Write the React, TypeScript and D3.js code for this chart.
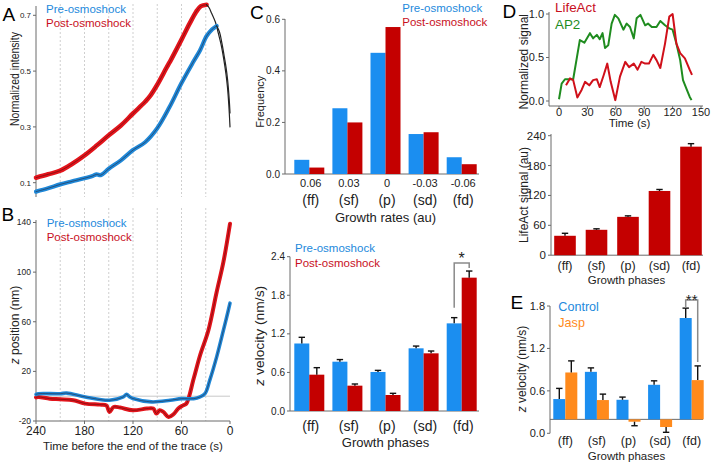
import React from "react";
import * as d3 from "d3";

// ---------- data ----------
const PHASES = ["(ff)", "(sf)", "(p)", "(sd)", "(fd)"];
const RATES = ["0.06", "0.03", "0", "-0.03", "-0.06"];

// Panel A: normalized intensity vs time before end (s)
const A_PRE_T = [240, 225, 210, 195, 180, 170, 165, 160, 150, 135, 120, 105, 90, 75, 60, 45, 37, 29, 22, 16.5];
const A_PRE_V = [0.068, 0.08, 0.094, 0.105, 0.116, 0.124, 0.13, 0.127, 0.15, 0.18, 0.217, 0.245, 0.295, 0.37, 0.457, 0.535, 0.575, 0.625, 0.65, 0.662];
const A_PRE_TAIL_T = [16.5, 13, 10, 7, 5, 3, 1, 0];
const A_PRE_TAIL_V = [0.662, 0.64, 0.6, 0.55, 0.515, 0.47, 0.4, 0.35];
const A_POST_T = [240, 225, 210, 195, 180, 165, 150, 135, 120, 105, 99, 90, 78, 75, 60, 50, 42, 36, 29];
const A_POST_V = [0.118, 0.13, 0.143, 0.168, 0.198, 0.233, 0.27, 0.305, 0.348, 0.39, 0.41, 0.451, 0.515, 0.53, 0.613, 0.67, 0.712, 0.733, 0.738];
const A_POST_TAIL_T = [29, 26, 22.7, 18, 14.4, 11, 8.2, 5, 3.2, 1.5, 0];
const A_POST_TAIL_V = [0.738, 0.728, 0.707, 0.675, 0.635, 0.595, 0.551, 0.49, 0.444, 0.38, 0.3];

// Panel B: z position (nm)
const B_PRE_T = [240, 237, 210, 202, 179, 149, 132, 128, 124, 120, 97, 74, 60, 45, 37, 31, 25, 16.5, 8.2, 4, 0];
const B_PRE_Z = [1.5, 2, 2, 2.5, -0.6, -3.3, -0.6, 1.5, -0.6, -1.9, -4.6, -3.3, -2, -2, -0.6, 2, 12.9, 31.7, 53, 64, 75];
const B_POST_T = [240, 237, 223, 210, 194, 179, 161, 153, 149, 144, 136, 120, 103, 95, 91, 87, 82.5, 76, 70, 64, 58, 54, 45, 37, 26.8, 16.5, 8.2, 0];
const B_POST_Z = [-1, -0.6, -2, -2.5, -3.3, -6, -6.8, -7.4, -12.7, -8.7, -9.2, -11.4, -10, -10, -14, -11.4, -12.7, -16.8, -14.6, -10, -7.4, -6, 14, 33, 53, 84, 108, 139];

// Panel C (top): frequency histogram
const C_FREQ_PRE = [0.055, 0.255, 0.47, 0.155, 0.065];
const C_FREQ_POST = [0.025, 0.2, 0.57, 0.162, 0.038];

// Panel C (bottom): z velocity (nm/s)
const C_VEL_PRE = [1.05, 0.767, 0.607, 0.975, 1.363];
const C_VEL_PRE_ERR = [1.146, 0.8, 0.632, 1.01, 1.452];
const C_VEL_POST = [0.565, 0.394, 0.249, 0.897, 2.074];
const C_VEL_POST_ERR = [0.674, 0.42, 0.275, 0.933, 2.177];

// Panel D (top): normalized signal vs time (s)
const D_AP2_T = [0, 2.8, 6.3, 11.6, 15, 22, 26.8, 32.7, 36, 40, 43, 46, 48.6, 52, 55.6, 59, 62.7, 68, 71.5, 75, 79, 82, 86, 91, 94, 98, 103, 107, 112, 116.5, 120, 124, 128, 131, 135, 138, 140];
const D_AP2_V = [0.02, 0.2, 0.25, 0.25, 0.25, 0.7, 0.67, 0.78, 0.72, 0.76, 0.71, 0.78, 0.61, 0.64, 0.89, 0.99, 0.95, 0.82, 0.89, 0.85, 0.72, 0.95, 0.99, 0.87, 0.89, 0.85, 0.85, 0.92, 0.87, 0.835, 0.82, 0.66, 0.47, 0.24, 0.13, 0.05, 0.01];
const D_LA_T = [7.4, 11.6, 15, 19.4, 24, 27.5, 32, 36, 40, 43, 47, 51, 54.6, 59.5, 64.4, 70, 74, 79, 83, 87, 91, 95, 99.6, 103, 107, 112, 116.5, 120, 124, 128, 133, 138, 140.5];
const D_LA_V = [0.18, 0.26, 0.24, 0.04, 0.13, 0.22, 0.18, 0.24, 0.25, 0.16, 0.29, 0.43, 0.22, 0.01, 0.28, 0.45, 0.39, 0.43, 0.36, 0.45, 0.43, 0.43, 0.53, 0.47, 0.38, 0.66, 0.97, 1.0, 0.66, 0.55, 0.49, 0.36, 0.3];

// Panel D (bottom): LifeAct signal (au)
const D_LA_SIG = [39, 51, 77, 129, 218];
const D_LA_SIG_ERR = [44, 53, 79, 132, 224];

// Panel E: z velocity (nm/s), drawn from the panel's baseline
const E_BASE = 0.197;
const E_CTRL = [0.484, 0.869, 0.474, 0.686, 1.63];
const E_CTRL_ERR = [0.635, 0.925, 0.512, 0.742, 1.77];
const E_JASP = [0.86, 0.47, 0.164, 0.089, 0.752];
const E_JASP_ERR = [1.024, 0.554, 0.107, 0.014, 0.953];

// tick values
const A_TICKS = [0.1, 0.3, 0.5, 0.7];
const B_TICKS = [-20, 20, 60, 100, 140];
const T_TICKS = [240, 180, 120, 60, 0];
const T_GRID = [210, 180, 150, 120, 90, 60, 30];
const C1_TICKS = [0, 0.2, 0.4, 0.6];
const C2_TICKS = [0, 0.6, 1.2, 1.8, 2.4];
const D1_YTICKS = [0, 0.5, 1];
const D1_XTICKS = [0, 30, 60, 90, 120, 150];
const D2_TICKS = [0, 60, 120, 180, 240];
const E_TICKS = [0, 0.6, 1.2, 1.8];

// ---------- style ----------
const FONT = "'Liberation Sans', Arial, Helvetica, sans-serif";
const BLUE = "#1b8ef0";
const RED = "#c40000";
const ORANGE = "#ff8a1c";
const GREEN = "#1f8c1f";
const TBLUE = "#1f88d8";
const TRED = "#e3141b";
const LBLUE = "#2389dc";
const LRED = "#c8101e";
const AXIS = "#6a6a6a";
const TXT = "#222";

const zip = (a: number[], b: number[]) => a.map((v, i) => [v, b[i]] as [number, number]);

function VAxis(props: { x: number; y0: number; y1: number; scale: (v: number) => number; ticks: number[]; fmt: (v: number) => string; fs: number; gap?: number }) {
  const { x, y0, y1, scale, ticks, fmt, fs } = props;
  const gap = props.gap ?? 2;
  return (
    <g>
      <line x1={x} x2={x} y1={y0} y2={y1} stroke={AXIS} strokeWidth={1} />
      {ticks.map((t, i) => (
        <g key={i}>
          <line x1={x - 3} x2={x} y1={scale(t)} y2={scale(t)} stroke={AXIS} strokeWidth={1} />
          <text x={x - 3 - gap} y={scale(t)} dy="0.35em" textAnchor="end" fontSize={fs} fill={TXT}>
            {fmt(t)}
          </text>
        </g>
      ))}
    </g>
  );
}

function RotLabel(props: { x: number; y: number; fs: number; len?: number; children: React.ReactNode }) {
  return (
    <text
      transform={`translate(${props.x},${props.y}) rotate(-90)`}
      textAnchor="middle"
      fontSize={props.fs}
      fill={TXT}
      textLength={props.len}
      lengthAdjust={props.len ? "spacingAndGlyphs" : undefined}
    >
      {props.children}
    </text>
  );
}

type Series = { values: number[]; errs?: number[]; color: string };

function GroupedBars(props: { x: d3.ScaleBand<string>; y: d3.ScaleLinear<number, number>; base: number; series: Series[] }) {
  const { x, y, base, series } = props;
  const sub = d3.scaleBand<number>().domain(series.map((_, i) => i)).range([0, x.bandwidth()]);
  return (
    <g>
      {PHASES.map((c, ci) => (
        <g key={c}>
          {series.map((s, si) => {
            const v = s.values[ci];
            const x0 = (x(c) as number) + (sub(si) as number);
            const yb = y(base);
            const yv = y(v);
            return (
              <rect key={si} x={x0} width={sub.bandwidth()} y={Math.min(yb, yv)} height={Math.abs(yb - yv)} fill={s.color} />
            );
          })}
          {series.map((s, si) => {
            if (!s.errs) return null;
            const cx = (x(c) as number) + (sub(si) as number) + sub.bandwidth() / 2;
            const yv = y(s.values[ci]);
            const ye = y(s.errs[ci]);
            return (
              <g key={"e" + si} stroke="#111" strokeWidth={1.4}>
                <line x1={cx} x2={cx} y1={yv} y2={ye} />
                <line x1={cx - 3.2} x2={cx + 3.2} y1={ye} y2={ye} />
              </g>
            );
          })}
        </g>
      ))}
    </g>
  );
}

// ---------- panels ----------
const xT = d3.scaleLinear().domain([240, 0]).range([36, 230]);
const yA = d3.scaleLinear().domain([0.1, 0.7]).range([182.7, 15.3]);
const yB = d3.scaleLinear().domain([-20, 140]).range([421, 222.5]);

function Trace(props: { pts: [number, number][]; tail?: [number, number][]; y: (v: number) => number; color: string; w: number }) {
  const line = d3
    .line<[number, number]>()
    .x((d) => xT(d[0]))
    .y((d) => props.y(d[1]))
    .curve(d3.curveCatmullRom.alpha(0.5));
  return (
    <g fill="none" strokeLinejoin="round" strokeLinecap="round">
      <path d={line(props.pts) || ""} stroke={props.color} strokeWidth={props.w} />
      <path d={line(props.pts) || ""} stroke="#2a0a0a" strokeOpacity={0.55} strokeWidth={0.8} />
      {props.tail && <path d={line(props.tail) || ""} stroke="#222" strokeWidth={1.2} />}
    </g>
  );
}

function PanelA() {
  return (
    <g>
      {T_GRID.map((t) => (
        <line key={t} x1={xT(t)} x2={xT(t)} y1={4} y2={197} stroke="#cfcfcf" strokeDasharray="2,2" />
      ))}
      <VAxis x={36} y0={6} y1={197} scale={yA} ticks={A_TICKS} fmt={(v) => v.toFixed(1)} fs={8} />
      <Trace pts={zip(A_POST_T, A_POST_V)} tail={zip(A_POST_TAIL_T, A_POST_TAIL_V)} y={yA} color={TRED} w={4.6} />
      <Trace pts={zip(A_PRE_T, A_PRE_V)} tail={zip(A_PRE_TAIL_T, A_PRE_TAIL_V)} y={yA} color={TBLUE} w={4.2} />
      <RotLabel x={19} y={79} fs={12} len={94}>Normalized intensity</RotLabel>
      <text x={46} y={13.3} fontSize={11.5} fill={LBLUE}>Pre-osmoshock</text>
      <text x={46} y={27.3} fontSize={11.5} fill={LRED}>Post-osmoshock</text>
      <text x={2.5} y={20.7} fontSize={19} fill="#000">A</text>
    </g>
  );
}

function PanelB() {
  return (
    <g>
      {T_GRID.map((t) => (
        <line key={t} x1={xT(t)} x2={xT(t)} y1={208} y2={421} stroke="#cfcfcf" strokeDasharray="2,2" />
      ))}
      <line x1={36} x2={230} y1={yB(0)} y2={yB(0)} stroke="#c8c8c8" strokeWidth={1} />
      <VAxis x={36} y0={220} y1={421} scale={yB} ticks={B_TICKS} fmt={(v) => String(v)} fs={8.5} />
      <line x1={36} x2={230} y1={421} y2={421} stroke={AXIS} />
      {T_TICKS.map((t) => (
        <g key={t}>
          <line x1={xT(t)} x2={xT(t)} y1={421} y2={424} stroke={AXIS} />
          <text x={xT(t)} y={435} textAnchor="middle" fontSize={12} fill={TXT}>{t}</text>
        </g>
      ))}
      <Trace pts={zip(B_POST_T, B_POST_Z)} y={yB} color={TRED} w={4} />
      <Trace pts={zip(B_PRE_T, B_PRE_Z)} y={yB} color={TBLUE} w={3.6} />
      <RotLabel x={18.5} y={325} fs={12}>
        <tspan fontStyle="italic">z</tspan> position (nm)
      </RotLabel>
      <text x={133} y={450} textAnchor="middle" fontSize={11.5} fill={TXT}>Time before the end of the trace (s)</text>
      <text x={46.7} y={226.5} fontSize={11.5} fill={LBLUE}>Pre-osmoshock</text>
      <text x={46.7} y={240.5} fontSize={11.5} fill={LRED}>Post-osmoshock</text>
      <text x={1.5} y={220.7} fontSize={19} fill="#000">B</text>
    </g>
  );
}

const xC = d3.scaleBand<string>().domain(PHASES).range([290.25, 480.75]).paddingInner(0.2126).paddingOuter(0.1063);
const yC1 = d3.scaleLinear().domain([0, 0.6]).range([174, 19.3]);
const yC2 = d3.scaleLinear().domain([0, 2.4]).range([411, 256.7]);

function PanelC() {
  const fdPreX = (xC("(fd)") as number) + xC.bandwidth() / 4;
  const fdPostX = (xC("(fd)") as number) + (3 * xC.bandwidth()) / 4;
  const top = yC2(C_VEL_POST_ERR[4]) - 8;
  return (
    <g>
      {/* histogram */}
      <VAxis x={285} y0={19} y1={174} scale={yC1} ticks={C1_TICKS} fmt={(v) => v.toFixed(1)} fs={10} />
      <line x1={285} x2={479} y1={174} y2={174} stroke={AXIS} />
      <GroupedBars x={xC} y={yC1} base={0} series={[{ values: C_FREQ_PRE, color: BLUE }, { values: C_FREQ_POST, color: RED }]} />
      {PHASES.map((p, i) => (
        <g key={p}>
          <text x={(xC(p) as number) + xC.bandwidth() / 2 + 1.5} y={187} textAnchor="middle" fontSize={11} fill={TXT}>{RATES[i]}</text>
          <text x={(xC(p) as number) + xC.bandwidth() / 2 + 1.5} y={204.5} textAnchor="middle" fontSize={14} fill={TXT}>{p}</text>
        </g>
      ))}
      <text x={385.5} y={221.5} textAnchor="middle" fontSize={13} fill={TXT}>Growth rates (au)</text>
      <RotLabel x={264} y={101.7} fs={11}>Frequency</RotLabel>
      <text x={402.3} y={11.7} fontSize={11.5} fill={LBLUE}>Pre-osmoshock</text>
      <text x={402.3} y={26} fontSize={11.5} fill={LRED}>Post-osmoshock</text>
      <text x={250} y={19} fontSize={19} fill="#000">C</text>

      {/* velocity */}
      <VAxis x={290} y0={256.7} y1={411} scale={yC2} ticks={C2_TICKS} fmt={(v) => v.toFixed(1)} fs={10} />
      <line x1={290} x2={479} y1={411} y2={411} stroke={AXIS} />
      <GroupedBars
        x={xC}
        y={yC2}
        base={0}
        series={[
          { values: C_VEL_PRE, errs: C_VEL_PRE_ERR, color: BLUE },
          { values: C_VEL_POST, errs: C_VEL_POST_ERR, color: RED },
        ]}
      />
      <path
        d={`M${fdPreX},${yC2(C_VEL_PRE_ERR[4]) - 10}V${top}H${fdPostX}V${top + 5}`}
        fill="none"
        stroke="#8a8a8a"
        strokeWidth={1.5}
      />
      <text x={(fdPreX + fdPostX) / 2} y={264} textAnchor="middle" fontSize={16} fill={TXT}>*</text>
      {PHASES.map((p) => (
        <text key={p} x={(xC(p) as number) + xC.bandwidth() / 2 + 1.5} y={431} textAnchor="middle" fontSize={14} fill={TXT}>{p}</text>
      ))}
      <text x={385.5} y={447} textAnchor="middle" fontSize={13} fill={TXT}>Growth phases</text>
      <RotLabel x={264} y={335.8} fs={12} len={100}>
        <tspan fontStyle="italic">z</tspan> velocity (nm/s)
      </RotLabel>
      <text x={295} y={252.3} fontSize={11.5} fill={LBLUE}>Pre-osmoshock</text>
      <text x={295} y={266.7} fontSize={11.5} fill={LRED}>Post-osmoshock</text>
    </g>
  );
}

const xD1 = d3.scaleLinear().domain([0, 150]).range([559, 701]);
const yD1 = d3.scaleLinear().domain([0, 1]).range([101, 14]);
const xD2 = d3.scaleBand<string>().domain(PHASES).range([549.25, 706.75]).paddingInner(0.314).paddingOuter(0.157);
const yD2 = d3.scaleLinear().domain([0, 240]).range([255.2, 135.7]);

function PanelD() {
  const line = d3
    .line<[number, number]>()
    .x((d) => xD1(d[0]))
    .y((d) => yD1(d[1]));
  return (
    <g>
      <VAxis x={549} y0={12} y1={106} scale={yD1} ticks={D1_YTICKS} fmt={(v) => v.toFixed(1)} fs={11} />
      <line x1={549} x2={703} y1={106} y2={106} stroke={AXIS} />
      {D1_XTICKS.map((t) => (
        <g key={t}>
          <line x1={xD1(t)} x2={xD1(t)} y1={106} y2={109} stroke={AXIS} />
          <text x={xD1(t)} y={115.5} textAnchor="middle" fontSize={11} fill={TXT}>{t}</text>
        </g>
      ))}
      <path d={line(zip(D_AP2_T, D_AP2_V)) || ""} fill="none" stroke={GREEN} strokeWidth={2} strokeLinejoin="round" />
      <path d={line(zip(D_LA_T, D_LA_V)) || ""} fill="none" stroke="#d0101a" strokeWidth={2} strokeLinejoin="round" />
      <text x={629.5} y={127} textAnchor="middle" fontSize={11.5} fill={TXT}>Time (s)</text>
      <RotLabel x={528} y={61.7} fs={12}>Normalized signal</RotLabel>
      <text x={555} y={12.3} fontSize={13.4} fill={LRED}>LifeAct</text>
      <text x={555} y={29} fontSize={13.4} fill={GREEN}>AP2</text>
      <text x={502.5} y={18.3} fontSize={19} fill="#000">D</text>

      <VAxis x={551} y0={134} y1={255.2} scale={yD2} ticks={D2_TICKS} fmt={(v) => String(v)} fs={11.5} />
      <line x1={551} x2={703} y1={255.2} y2={255.2} stroke={AXIS} />
      <GroupedBars x={xD2} y={yD2} base={0} series={[{ values: D_LA_SIG, errs: D_LA_SIG_ERR, color: RED }]} />
      {PHASES.map((p) => (
        <text key={p} x={(xD2(p) as number) + xD2.bandwidth() / 2} y={269.5} textAnchor="middle" fontSize={12.5} fill={TXT}>{p}</text>
      ))}
      <text x={626.5} y={284} textAnchor="middle" fontSize={11.5} fill={TXT}>Growth phases</text>
      <RotLabel x={528} y={195} fs={12}>LifeAct signal (au)</RotLabel>
    </g>
  );
}

const xE = d3.scaleBand<string>().domain(PHASES).range([549.5, 707.5]).paddingInner(0.24).paddingOuter(0.12);
const yE = d3.scaleLinear().domain([0, 1.8]).range([433.3, 306]);

function PanelE() {
  const cX = (xE("(fd)") as number) + xE.bandwidth() / 4;
  const jX = (xE("(fd)") as number) + (3 * xE.bandwidth()) / 4;
  const top = yE(E_CTRL_ERR[4]) - 8;
  return (
    <g>
      <VAxis x={550} y0={306} y1={433.3} scale={yE} ticks={E_TICKS} fmt={(v) => v.toFixed(1)} fs={11} />
      <line x1={550} x2={703} y1={yE(E_BASE)} y2={yE(E_BASE)} stroke={AXIS} />
      <GroupedBars
        x={xE}
        y={yE}
        base={E_BASE}
        series={[
          { values: E_CTRL, errs: E_CTRL_ERR, color: BLUE },
          { values: E_JASP, errs: E_JASP_ERR, color: ORANGE },
        ]}
      />
      <path d={`M${cX},${top + 8}V${top}H${jX}V${yE(E_JASP_ERR[4]) - 4}`} fill="none" stroke="#8a8a8a" strokeWidth={1.5} />
      <text x={(cX + jX) / 2} y={305} textAnchor="middle" fontSize={15} fill={TXT}>**</text>
      {PHASES.map((p) => (
        <text key={p} x={(xE(p) as number) + xE.bandwidth() / 2} y={444.5} textAnchor="middle" fontSize={12.5} fill={TXT}>{p}</text>
      ))}
      <text x={626.5} y={459.5} textAnchor="middle" fontSize={11.5} fill={TXT}>Growth phases</text>
      <RotLabel x={526} y={369} fs={12}>
        <tspan fontStyle="italic">z</tspan> velocity (nm/s)
      </RotLabel>
      <text x={558.3} y={311.2} fontSize={12.6} fill={LBLUE}>Control</text>
      <text x={558.3} y={326.8} fontSize={12.6} fill={ORANGE}>Jasp</text>
      <text x={510.5} y={309.3} fontSize={19} fill="#000">E</text>
    </g>
  );
}

export default function App() {
  return (
    <svg
      width={712}
      height={466}
      viewBox="0 0 712 466"
      style={{ position: "absolute", left: 0, top: 0, background: "#fff" }}
      fontFamily={FONT}
    >
      <rect width={712} height={466} fill="#fff" />
      <PanelA />
      <PanelB />
      <PanelC />
      <PanelD />
      <PanelE />
    </svg>
  );
}
